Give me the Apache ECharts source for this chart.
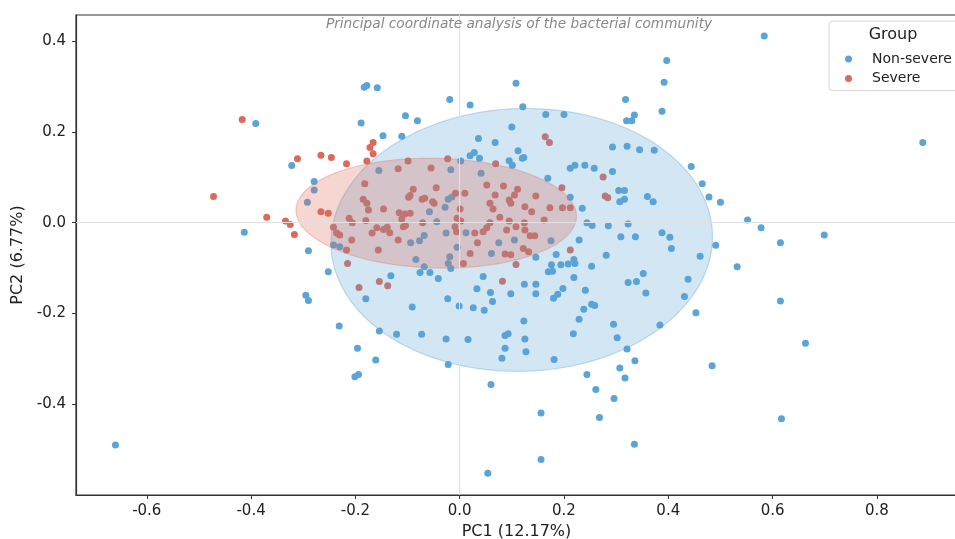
<!DOCTYPE html>
<html>
<head>
<meta charset="utf-8">
<script src="https://cdn.jsdelivr.net/npm/echarts@6/dist/echarts.min.js"></script>
<style>
html,body{margin:0;padding:0;background:#fff;}
#chart{width:955px;height:539px;}
</style>
</head>
<body>
<div id="chart"></div>
<script>
const titleText = 'Principal coordinate analysis of the bacterial community';
const xName = 'PC1 (12.17%)';
const yName = 'PC2 (6.77%)';
const groupTitle = 'Group';
const seriesNames = ['Non-severe', 'Severe'];
const xTicks = [-0.6, -0.4, -0.2, 0.0, 0.2, 0.4, 0.6, 0.8];
const yTicks = [-0.4, -0.2, 0.0, 0.2, 0.4];

const nonSevere = [
  [-0.660,-0.491],[-0.413,-0.021],[-0.391,0.219],[-0.322,0.126],
  [-0.183,0.299],[-0.178,0.303],[-0.158,0.298],[-0.019,0.272],[0.020,0.260],
  [-0.189,0.220],[-0.104,0.236],[-0.081,0.225],[-0.147,0.192],[-0.111,0.191],
  [-0.155,0.115],[-0.017,0.117],[0.002,0.136],[0.036,0.186],
  [0.020,0.148],[0.028,0.155],[0.038,0.142],
  [-0.279,0.091],[-0.279,0.072],[-0.292,0.045],
  [-0.022,0.052],[-0.015,0.057],[-0.028,0.034],[-0.058,0.024],[-0.044,0.002],
  [-0.242,-0.049],[-0.230,-0.053],[-0.290,-0.062],[-0.094,-0.044],
  [-0.077,-0.040],[-0.068,-0.028],[-0.084,-0.081],[-0.068,-0.097],
  [-0.019,-0.075],[-0.022,-0.090],[0.012,-0.022],
  [0.584,0.412],[0.397,0.358],[0.392,0.310],[0.108,0.308],[0.318,0.272],[0.388,0.246],
  [0.320,0.225],[0.330,0.225],[0.335,0.238],[0.121,0.256],[0.165,0.239],[0.200,0.239],
  [0.100,0.211],[0.068,0.177],
  [0.095,0.137],[0.101,0.127],[0.112,0.159],[0.120,0.142],[0.123,0.144],[0.041,0.109],
  [0.212,0.120],[0.221,0.127],[0.240,0.127],[0.258,0.120],[0.293,0.113],
  [0.293,0.167],[0.321,0.169],[0.345,0.161],[0.373,0.160],[0.444,0.124],
  [0.465,0.086],[0.478,0.057],[0.500,0.045],[0.888,0.177],
  [0.552,0.006],[0.578,-0.011],[0.615,-0.044],[0.699,-0.027],
  [0.305,0.071],[0.316,0.071],[0.307,0.046],[0.316,0.052],[0.360,0.058],[0.371,0.046],
  [0.169,0.098],[0.212,0.056],[0.235,0.032],[0.285,-0.007],[0.323,-0.003],
  [0.244,0.000],[0.254,-0.006],[0.309,-0.031],[0.337,-0.031],
  [0.388,-0.022],[0.403,-0.032],[0.406,-0.057],[0.491,-0.050],[0.461,-0.074],[0.532,-0.097],
  [0.229,-0.038],[0.185,-0.070],[0.281,-0.072],[0.253,-0.096],
  [0.194,-0.093],[0.208,-0.091],[0.219,-0.081],[0.221,-0.090],
  [0.075,-0.044],[0.061,-0.068],[0.146,-0.076],[0.175,-0.040],[0.105,-0.038],[0.176,-0.093],
  [-0.252,-0.108],[-0.295,-0.160],[-0.290,-0.172],[-0.231,-0.228],[-0.196,-0.277],
  [-0.161,-0.303],[-0.201,-0.340],[-0.194,-0.335],[-0.180,-0.168],[-0.154,-0.239],
  [-0.121,-0.246],[-0.073,-0.246],[-0.026,-0.257],[-0.022,-0.313],[-0.091,-0.186],
  [-0.023,-0.168],[-0.132,-0.117],[-0.026,-0.023],[-0.076,-0.110],[-0.057,-0.110],[-0.041,-0.123],
  [-0.005,-0.054],[-0.017,-0.101],[0.178,-0.107],[0.170,-0.108],[0.045,-0.119],
  [0.033,-0.146],[0.059,-0.154],[0.098,-0.157],[0.124,-0.136],[0.146,-0.136],[0.146,-0.157],
  [0.180,-0.167],[0.188,-0.158],[0.198,-0.145],[0.219,-0.121],[0.241,-0.149],
  [0.253,-0.180],[0.259,-0.183],[0.238,-0.191],[0.229,-0.213],[0.218,-0.245],
  [-0.001,-0.184],[0.026,-0.188],[0.047,-0.193],[0.063,-0.174],[0.123,-0.217],
  [0.087,-0.249],[0.093,-0.245],[0.125,-0.257],[0.087,-0.277],[0.127,-0.285],[0.081,-0.299],
  [0.016,-0.258],[0.181,-0.302],[0.244,-0.335],
  [0.352,-0.112],[0.323,-0.132],[0.339,-0.130],[0.357,-0.155],[0.438,-0.125],[0.431,-0.163],
  [0.453,-0.199],[0.295,-0.224],[0.384,-0.226],[0.302,-0.254],[0.321,-0.279],[0.336,-0.305],
  [0.307,-0.321],[0.484,-0.316],[0.317,-0.343],
  [0.261,-0.368],[0.296,-0.388],[0.156,-0.420],[0.268,-0.430],[0.335,-0.489],
  [0.156,-0.523],[0.054,-0.553],[0.060,-0.357],[0.615,-0.173],[0.663,-0.266],[0.617,-0.433]
];

const severe = [
  [-0.417,0.228],[-0.472,0.058],[-0.370,0.012],[-0.311,0.141],[-0.266,0.149],[-0.246,0.144],
  [-0.217,0.130],[-0.166,0.177],[-0.172,0.166],[-0.166,0.152],[-0.178,0.136],[-0.118,0.119],
  [-0.099,0.136],[-0.055,0.121],[-0.023,0.141],[-0.182,0.086],[-0.045,0.077],
  [-0.089,0.074],[-0.095,0.060],[-0.098,0.056],[-0.072,0.052],[-0.067,0.054],
  [-0.052,0.046],[-0.049,0.043],[-0.008,0.065],[0.010,0.065],[0.001,0.030],
  [-0.185,0.052],[-0.178,0.043],[-0.175,0.028],[-0.146,0.030],
  [-0.116,0.022],[-0.105,0.019],[-0.095,0.021],[-0.111,0.008],[-0.108,-0.009],
  [-0.071,0.000],[-0.180,0.005],[-0.212,0.010],[-0.206,0.000],
  [-0.242,-0.010],[-0.236,-0.023],[-0.230,-0.027],[-0.266,0.024],[-0.252,0.021],
  [-0.334,0.004],[-0.325,-0.004],[-0.317,-0.026],[-0.207,-0.038],
  [-0.159,-0.011],[-0.146,-0.015],[-0.134,-0.022],[-0.118,-0.038],[-0.156,-0.060],
  [-0.217,-0.060],[-0.215,-0.090],[0.007,-0.090],[0.020,-0.068],
  [-0.009,-0.009],[-0.006,-0.020],[0.029,-0.023],[-0.005,0.010],[0.002,0.004],
  [-0.104,-0.006],[-0.139,-0.010],[-0.168,-0.023],
  [0.069,0.130],[0.275,0.101],[0.279,0.059],[0.284,0.055],[0.196,0.077],
  [0.173,0.033],[0.197,0.033],[0.212,0.033],[0.162,0.006],[0.212,-0.060],
  [0.052,0.083],[0.084,0.081],[0.068,0.061],[0.111,0.074],[0.105,0.061],[0.095,0.050],
  [0.098,0.043],[0.146,0.059],[0.125,0.035],[0.138,0.024],[0.058,0.043],[0.064,0.030],
  [0.077,0.012],[0.095,0.004],[0.124,0.000],[0.108,-0.009],[0.058,0.000],[0.052,-0.011],
  [0.045,-0.020],[0.090,-0.016],[0.125,-0.016],[0.135,-0.029],[0.144,-0.029],[0.034,-0.044],
  [0.122,-0.057],[0.132,-0.064],[0.098,-0.071],[0.087,-0.069],[0.108,-0.092],
  [-0.193,-0.143],[-0.154,-0.130],[-0.138,-0.139],[0.082,-0.129],
  [0.164,0.190],[0.172,0.177]
];

// confidence ellipses (centre, semi-axes, rotation in radians), in data units
const ellipseNonSevere = {cx: 0.119, cy: -0.038, a: 0.366, b: 0.290, angle: 0.05};
const ellipseSevere = {cx: -0.045, cy: 0.021, a: 0.269, b: 0.121, angle: -0.03};

const FONT = 'DejaVu Sans';
const BLUE = '#5aa4d8';
const RED = '#dc6a5b';

function ellipseSeries(name, p, fill, stroke, z) {
  return {
    type: 'custom', name: name, silent: true, z: z,
    data: [[p.cx, p.cy]],
    renderItem: function (params, api) {
      const pts = [];
      const n = 160;
      const c = Math.cos(p.angle), s = Math.sin(p.angle);
      for (let i = 0; i < n; i++) {
        const t = 2 * Math.PI * i / n;
        const ex = p.a * Math.cos(t), ey = p.b * Math.sin(t);
        pts.push(api.coord([p.cx + ex * c - ey * s, p.cy + ex * s + ey * c]));
      }
      return {type: 'polygon', shape: {points: pts}, style: {fill: fill, stroke: stroke, lineWidth: 1.2}};
    }
  };
}

const chart = echarts.init(document.getElementById('chart'), null, {renderer: 'canvas'});
chart.setOption({
  animation: false,
  backgroundColor: '#fff',
  grid: {left: 76, top: 15, right: -2, bottom: 44, show: true, borderColor: '#333', borderWidth: 1.2, containLabel: false, outerBoundsMode: 'none'},
  graphic: [
    {type: 'text', x: 519, y: 24, z: 100, style: {text: titleText, fontFamily: FONT, fontStyle: 'italic', fontSize: 13.7, fill: '#888', align: 'center', verticalAlign: 'middle'}},
    {type: 'text', x: 893, y: 35, z: 100, style: {text: groupTitle, fontFamily: FONT, fontSize: 16, fill: '#222', align: 'center', verticalAlign: 'middle'}}
  ],
  legend: {
    data: seriesNames, orient: 'vertical', left: 829, top: 21,
    padding: [31, 20, 5, 16], itemGap: 5.5, itemWidth: 7, itemHeight: 7, icon: 'circle',
    textStyle: {fontFamily: FONT, fontSize: 14, color: '#222', padding: [0, 0, 0, 15]},
    borderColor: '#d8d8d8', borderWidth: 1, borderRadius: 4, backgroundColor: 'rgba(255,255,255,0.85)'
  },
  xAxis: {
    type: 'value', min: -0.7357, max: 0.9536,
    name: xName, nameLocation: 'middle', nameGap: 29,
    nameTextStyle: {fontFamily: FONT, fontSize: 16, color: '#222'},
    axisLine: {show: true, onZero: false, lineStyle: {color: '#333', width: 1.2}},
    axisTick: {show: true, length: 4, customValues: xTicks, lineStyle: {color: '#333'}},
    axisLabel: {customValues: xTicks, formatter: v => v.toFixed(1), fontFamily: FONT, fontSize: 15, color: '#222', margin: 9},
    splitLine: {show: false}
  },
  yAxis: {
    type: 'value', min: -0.6011, max: 0.4585,
    name: yName, nameLocation: 'middle', nameGap: 50,
    nameTextStyle: {fontFamily: FONT, fontSize: 16, color: '#222'},
    axisLine: {show: true, onZero: false, lineStyle: {color: '#333', width: 1.2}},
    axisTick: {show: true, length: 4, customValues: yTicks, lineStyle: {color: '#333'}},
    axisLabel: {customValues: yTicks, formatter: v => v.toFixed(1), fontFamily: FONT, fontSize: 15, color: '#222', margin: 10},
    splitLine: {show: false}
  },
  series: [
    {
      name: seriesNames[0], type: 'scatter', data: nonSevere, symbolSize: 7, z: 2,
      itemStyle: {color: BLUE, opacity: 1},
      markLine: {
        silent: true, symbol: 'none', label: {show: false}, animation: false,
        lineStyle: {color: '#e2e2e2', width: 1, type: 'solid'},
        data: [{xAxis: 0}, {yAxis: 0}]
      }
    },
    {
      name: seriesNames[1], type: 'scatter', data: severe, symbolSize: 7, z: 2,
      itemStyle: {color: RED, opacity: 1}
    },
    ellipseSeries('ellipse-ns', ellipseNonSevere, 'rgba(90,164,216,0.27)', 'rgba(90,164,216,0.35)', 3),
    ellipseSeries('ellipse-s', ellipseSevere, 'rgba(220,106,91,0.28)', 'rgba(220,106,91,0.3)', 4)
  ]
});
</script>
</body>
</html>
